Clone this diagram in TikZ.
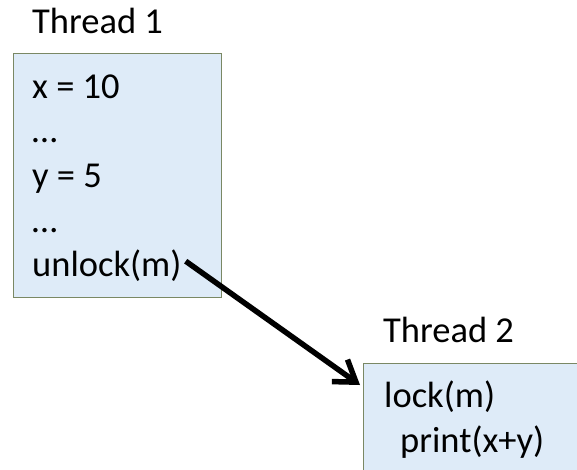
\documentclass[tikz,border=0pt]{standalone}
\usepackage{fontspec}
\setmainfont{Carlito}
\usetikzlibrary{arrows.meta}
\definecolor{boxfill}{RGB}{222,235,248}
\definecolor{boxline}{RGB}{122,136,100}
\begin{document}
\begin{tikzpicture}[x=1pt,y=-1pt,
  codebox/.style={draw=boxline, fill=boxfill, line width=1.3pt, anchor=north west, inner sep=0pt},
  txt/.style={anchor=base west, inner sep=0pt, font=\fontsize{36.5}{44}\selectfont},
  flow/.style={line width=5.5pt, -{Straight Barb[length=20pt,width=27pt]}}]
\useasboundingbox (0,0) rectangle (577,469);
\clip (0,0) rectangle (577,469);
% the two code blocks
\node[codebox, minimum width=208pt, minimum height=244pt] (box1) at (13,53) {};
\node[codebox, minimum width=240pt, minimum height=140pt] (box2) at (363,363) {};
% first thread
\node[txt] (title1) at (32,33) {Thread 1};
\node[txt] (setx) at (32,98) {x = 10};
\node[txt] (dots1) at (32,142) {…};
\node[txt] (sety) at (32,187) {y = 5};
\node[txt] (dots2) at (32,232) {…};
\node[txt] (unlock) at (32,276) {unlock(m)};
% second thread
\node[txt] (title2) at (383,342) {Thread 2};
\node[txt] (lock) at (384,407) {lock(m)};
\node[txt] (print) at (400,452) {print(x+y)};
% happens-before edge
\draw[flow] ([shift={(4,-4)}]unlock.east) -- ([shift={(-3,22)}]box2.north west);
\end{tikzpicture}
\end{document}
